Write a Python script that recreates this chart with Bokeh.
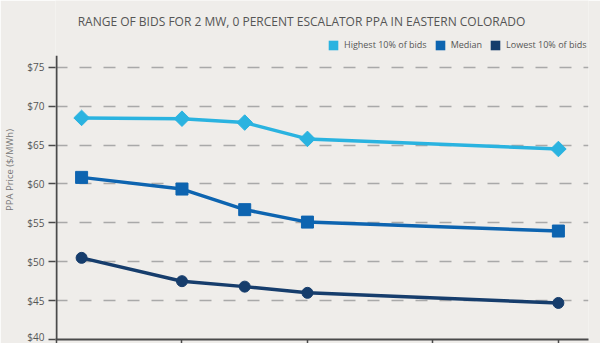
import math
from bokeh.plotting import figure
from bokeh.models import (Range1d, FixedTicker, Legend, LegendItem, Label,
                          ColumnDataSource, CustomLabelingPolicy)
from bokeh.embed import file_html
from bokeh.resources import INLINE

# ---- data ----
title_text = "RANGE OF BIDS FOR 2 MW, 0 PERCENT ESCALATOR PPA IN EASTERN COLORADO"
x_positions = [0.2, 1.0, 1.5, 2.0, 4.0]
highest = [68.5, 68.4, 67.9, 65.8, 64.5]
median = [60.85, 59.35, 56.7, 55.1, 53.95]
lowest = [50.5, 47.5, 46.8, 46.0, 44.7]
series_names = ["Highest 10% of bids", "Median", "Lowest 10% of bids"]
y_ticks = [40, 45, 50, 55, 60, 65, 70, 75]
y_tick_labels = ["$40", "$45", "$50", "$55", "$60", "$65", "$70", "$75"]
x_ticks = [0, 1, 2, 3, 4]
y_axis_label = "PPA Price ($/MWh)"
# axis extent: x axis starts at 0, y axis line runs from $40 up to 76.5
x_axis_min, y_axis_min, y_axis_max = 0, 40, 76.5

# ---- style ----
bg = "#efedea"
c_high = "#2ab3e0"
c_med = "#0d64b0"
c_low = "#163d6c"
axis_col = "#4a4a4a"
font = "Open Sans"

p = figure(width=600, height=343, x_range=Range1d(-0.008, 4.24), y_range=Range1d(40, 83.6),
           output_backend="svg", toolbar_location=None,
           min_border_left=54, min_border_right=12, min_border_top=0, min_border_bottom=3,
           background_fill_color=bg, border_fill_color=bg, outline_line_color=None)
p.title.visible = False

# x axis (tick labels are cut off in the reference: hide them)
p.xaxis.ticker = FixedTicker(ticks=x_ticks)
p.xaxis.major_label_policy = CustomLabelingPolicy(
    code="try { return new indices.constructor(indices.size, 0) } catch (e) { return indices }")
p.xaxis.major_label_text_font_size = "1px"
p.xaxis.major_label_standoff = 0
p.xaxis.major_tick_out = 0
p.xaxis.major_tick_in = -4
p.xaxis.minor_tick_out = 0
p.xaxis.axis_line_width = 2
p.xaxis.axis_line_color = axis_col
p.xaxis.major_tick_line_color = axis_col
p.xaxis.major_tick_line_width = 1.5

# y axis
p.yaxis.ticker = FixedTicker(ticks=y_ticks)
p.yaxis.major_label_overrides = {t: l for t, l in zip(y_ticks, y_tick_labels)}
p.yaxis.major_label_text_font = font
p.yaxis.major_label_text_font_size = "10px"
p.yaxis.major_label_text_color = "#555555"
p.yaxis.major_label_standoff = 4
p.yaxis.major_tick_out = 7
p.yaxis.major_tick_in = 0
p.yaxis.minor_tick_out = 0
p.yaxis.axis_line_color = None
p.yaxis.major_tick_line_color = axis_col
p.yaxis.major_tick_line_width = 1.5
p.yaxis.axis_label = y_axis_label
p.yaxis.axis_label_text_font = font
p.yaxis.axis_label_text_font_size = "9.5px"
p.yaxis.axis_label_text_font_style = "normal"
p.yaxis.axis_label_text_color = "#777777"
p.yaxis.axis_label_text_align = "right"
p.yaxis.axis_label_standoff = 8
# visible y axis line, only up to the top of the value area
p.segment(x0=[x_axis_min], y0=[y_axis_min], x1=[x_axis_min], y1=[y_axis_max],
          line_color=axis_col, line_width=2)

p.xgrid.visible = False
p.ygrid.ticker = FixedTicker(ticks=y_ticks)
p.ygrid.grid_line_color = "#a9a9a9"
p.ygrid.grid_line_width = 1.5
p.ygrid.grid_line_dash = "12 12"

# series
src = ColumnDataSource(dict(x=x_positions, hi=highest, md=median, lo=lowest))
p.line("x", "hi", source=src, line_width=3.5, color=c_high)
p.scatter("x", "hi", source=src, marker="square", angle=math.pi / 4, size=11, color=c_high)
p.line("x", "md", source=src, line_width=3.5, color=c_med)
p.scatter("x", "md", source=src, marker="square", size=12, color=c_med)
p.line("x", "lo", source=src, line_width=3.5, color=c_low)
p.scatter("x", "lo", source=src, marker="circle", size=11, color=c_low)

# legend swatches: zero-area quads on each series (only their legend swatch shows)
swatches = []
for col, key in zip([c_high, c_med, c_low], ["hi", "md", "lo"]):
    swatches.append(p.quad(left="x", right="x", top=key, bottom=key, source=src,
                           fill_color=col, line_color=None))
legend = Legend(items=[LegendItem(label=n, renderers=[r]) for n, r in zip(series_names, swatches)],
                location=(272, 288), orientation="horizontal",
                glyph_width=12, glyph_height=12, label_height=12, label_standoff=5,
                spacing=7, padding=0, margin=0, border_line_color=None,
                background_fill_alpha=0,
                label_text_font=font, label_text_font_size="9px", label_text_color="#555555")
p.add_layout(legend)

# title
p.add_layout(Label(x=246, y=318, x_units="screen", y_units="screen", text=title_text,
                   text_align="center", text_baseline="alphabetic", text_font=font,
                   text_font_size="12px", text_color="#555555"))

open("out.html", "w").write(file_html(p, INLINE))
